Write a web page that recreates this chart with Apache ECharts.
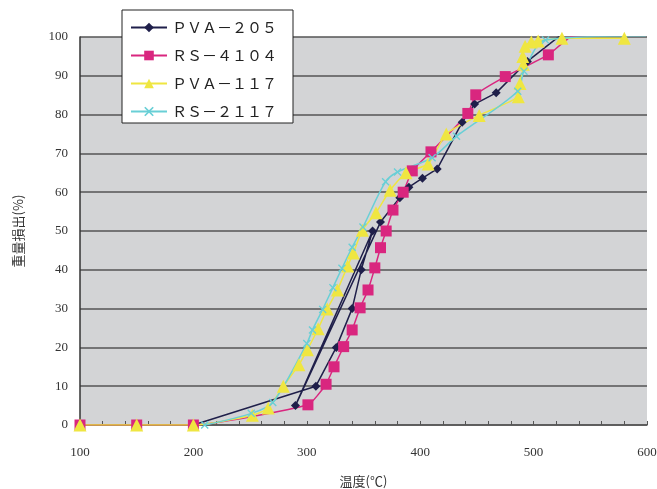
<!DOCTYPE html>
<html>
<head>
<meta charset="utf-8">
<script src="https://cdn.jsdelivr.net/npm/echarts@6/dist/echarts.min.js"></script>
<style>html,body{margin:0;padding:0;background:#fff}#c{width:657px;height:489px}</style>
</head>
<body>
<div id="c"></div>
<script>
const seriesNames = ['ＰＶＡ－２０５', 'ＲＳ－４１０４', 'ＰＶＡ－１１７', 'ＲＳ－２１１７'];
const pva205 = [[100,0],[150,0],[200,0],[308,10],[326,20],[340,30],[348,40],[358,50],[290,5],[365,52.3],[382,58.6],[390,61.3],[402,63.6],[415,66],[437,78],[448,82.7],[467,85.6],[494.5,93.7],[524,100.5]];
const rs4104 = [[100,0],[150,0],[200,0],[301,5.2],[317,10.5],[324,15],[332.5,20.2],[340,24.5],[347,30.2],[354,34.8],[360,40.5],[365,45.7],[370,50],[376,55.4],[385,60],[393,65.5],[409.5,70.4],[442,80.3],[449,85.1],[475,89.8],[513,95.4],[534,100.2],[560,100.4]];
const pva117 = [[100,0],[150,0],[200,0],[252,2.5],[266,4.4],[279.3,10],[293,15.5],[300.5,19.4],[310,24.8],[318,29.9],[327,34.8],[336,41],[341,44.3],[349,50.2],[361,54.7],[373.5,60.5],[387.5,65],[407,67.3],[423,75],[452,79.8],[486.5,84.6],[488,88],[491,93],[490.5,95],[492.5,97.6],[498,98.7],[504,99],[525,99.7],[580,99.7]];
const rs2117 = [[210,0],[251,3],[270,5.8],[300,21],[305,24.5],[314,29.8],[323,35.4],[331,40.4],[340,45.8],[349.5,51],[369.5,62.7],[380,65.2],[410.5,68.9],[432,74.4],[486,86],[491.5,91.2],[510.5,99.2],[599,100.3]];
const xTicks = [100, 200, 300, 400, 500, 600];

const colors = ['#1f1f4a', '#d9267f', '#efe641', '#69cfd6'];
const xPath = 'path://M0,1.2L1.2,0L5,3.8L8.8,0L10,1.2L6.2,5L10,8.8L8.8,10L5,6.2L1.2,10L0,8.8L3.8,5Z';

const chart = echarts.init(document.getElementById('c'), null, {renderer: 'canvas'});
const numFont = {fontFamily: 'Liberation Serif', fontSize: 13, color: '#333'};
chart.setOption({
  animation: false,
  color: colors,
  grid: {left: 80, right: 10, top: 37, bottom: 64, show: true, backgroundColor: '#d3d4d6', borderWidth: 0,
         containLabel: false, outerBoundsMode: 'none'},
  legend: {
    orient: 'vertical', left: 122, top: 10,
    backgroundColor: '#fff', borderColor: '#222', borderWidth: 1,
    padding: [10, 16, 4, 8], itemGap: 13, itemWidth: 36, itemHeight: 12,
    textStyle: {fontFamily: 'Noto Sans CJK JP', fontSize: 15, color: '#222'},
    data: seriesNames
  },
  xAxis: {
    type: 'value', min: 100, max: 600, interval: 20,
    name: '温度(℃)', nameLocation: 'middle', nameGap: 50,
    nameTextStyle: {fontFamily: 'Noto Sans CJK JP', fontSize: 13, color: '#333'},
    axisLine: {lineStyle: {color: '#555', width: 1.5}},
    axisTick: {inside: true, length: 4, lineStyle: {color: '#555'}},
    axisLabel: Object.assign({margin: 21, formatter: v => xTicks.includes(v) ? String(v) : ''}, numFont),
    splitLine: {show: false}
  },
  yAxis: {
    type: 'value', min: 0, max: 100, interval: 10,
    name: '重量損出(%)', nameLocation: 'middle', nameGap: 55, nameRotate: 90,
    nameTextStyle: {fontFamily: 'Noto Sans CJK JP', fontSize: 13, color: '#333'},
    axisLine: {show: true, lineStyle: {color: '#333', width: 1.5}},
    axisTick: {show: false},
    axisLabel: Object.assign({margin: 12}, numFont),
    splitLine: {lineStyle: {color: '#555', width: 1.5}}
  },
  series: [
    {name: seriesNames[0], type: 'line', data: pva205, symbol: 'diamond', symbolSize: 9,
     lineStyle: {width: 1.5}, itemStyle: {color: colors[0]}},
    {name: seriesNames[1], type: 'line', data: rs4104, symbol: 'rect', symbolSize: 11, smooth: 0.15,
     lineStyle: {width: 1.5}, itemStyle: {color: colors[1]}},
    {name: seriesNames[2], type: 'line', data: pva117, symbol: 'triangle', symbolSize: 13, smooth: 0.2,
     lineStyle: {width: 1.5}, itemStyle: {color: colors[2]}},
    {name: seriesNames[3], type: 'line', data: rs2117, symbol: xPath, symbolSize: 8, smooth: 0.3,
     lineStyle: {width: 1.5}, itemStyle: {color: colors[3]}}
  ]
});
</script>
</body>
</html>
